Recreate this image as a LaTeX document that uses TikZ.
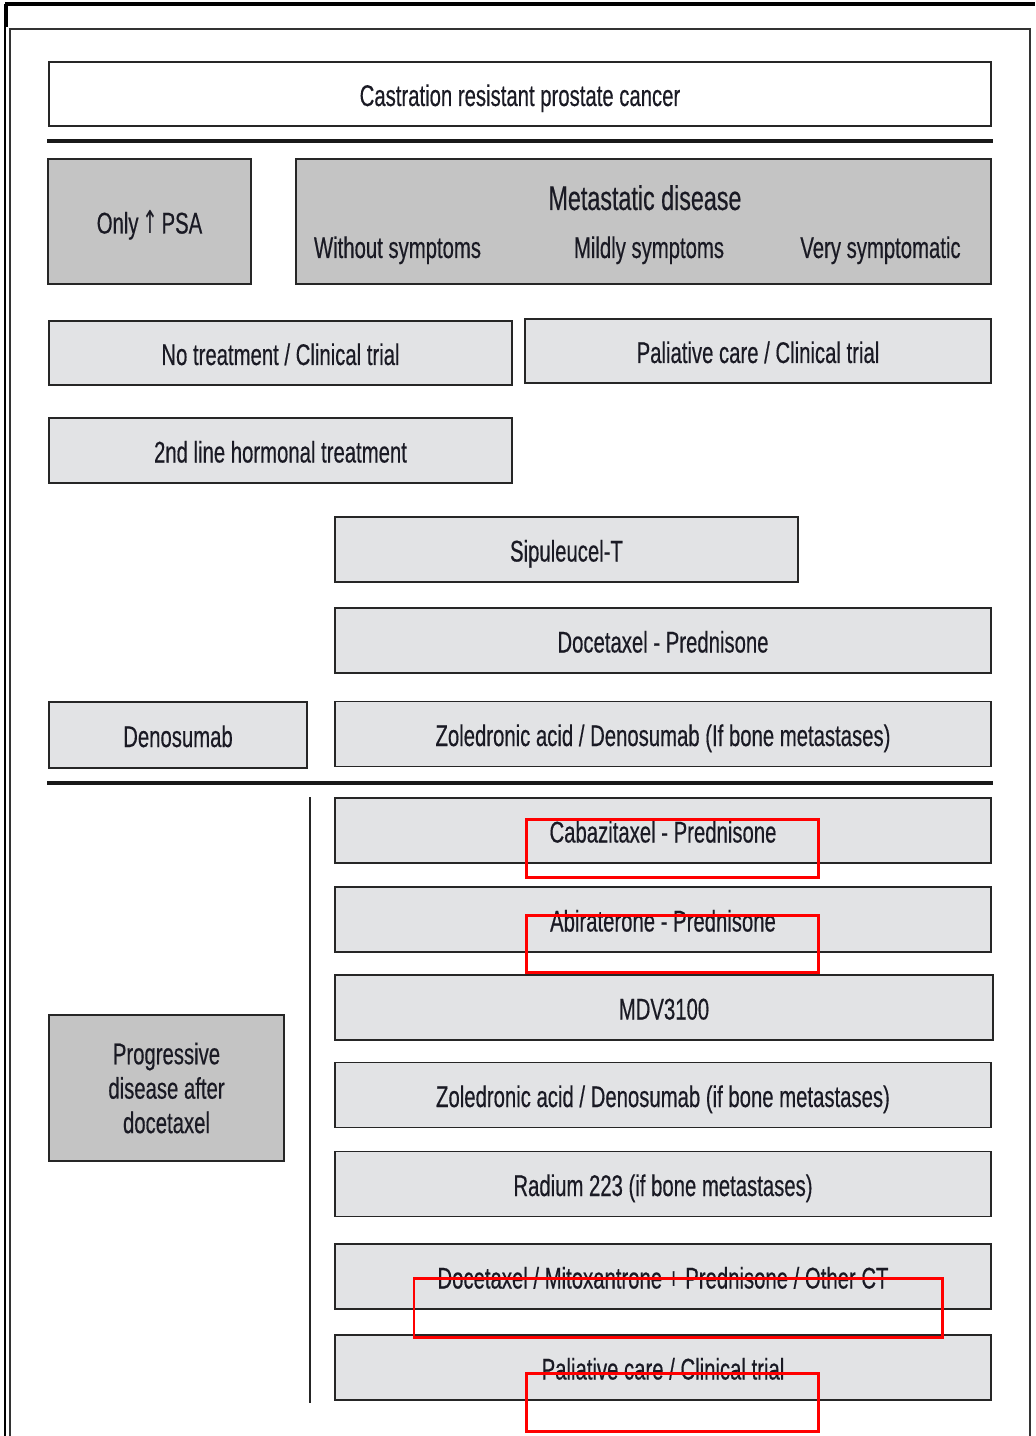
\documentclass[tikz,border=0pt]{standalone}
\usepackage{fontspec}
\setmainfont{Liberation Sans}[FakeStretch=0.68, FakeBold=0.4]
\newfontfamily\arrowfont{DejaVu Sans}[FakeStretch=0.6]
\definecolor{boxdark}{HTML}{C4C4C4}
\definecolor{boxlight}{HTML}{E2E3E5}
\definecolor{textink}{HTML}{1A1A24}
\tikzset{
  stepbox/.style = {
    draw=black!85, line width=1.1pt, inner sep=0pt, outer sep=0pt,
    text=textink, font=\fontsize{17}{19.6}\selectfont, align=center,
    text height=0.48cm, text depth=0pt
  },
  darkbox/.style  = {stepbox, fill=boxdark},
  lightbox/.style = {stepbox, fill=boxlight},
  widebox/.style  = {lightbox, minimum width=13.12cm, minimum height=1.3cm},
  label/.style    = {text=textink, font=\fontsize{17}{19.6}\selectfont,
    inner sep=0pt, text height=0.48cm, text depth=0pt},
  rule/.style     = {line width=2.8pt, black!90},
  marker/.style   = {draw=red, line width=1.7pt}
}

\begin{document}
\begin{tikzpicture}[x=0.02cm, y=-0.02cm]
  \useasboundingbox (0,0) rectangle (1035,1436);
  % page frame
  \draw[line width=1.8pt] (5,4) -- (1035,4);
  \draw[line width=1.8pt] (6,4) -- (6,27);
  \draw[line width=0.6pt] (5,27) -- (5,1436);
  \draw[line width=0.8pt, black!80] (10,1436) -- (10,29) -- (1030,29) -- (1030,1436);

  % header
  \node[stepbox, fill=white, minimum width=18.84cm, minimum height=1.28cm] (crpc) at (520,94)
    {Castration resistant prostate cancer};
  \coordinate (r1a) at (47,141);
  \coordinate (r1b) at (993,141);
  \draw[rule] (r1a) -- (r1b);

  \node[darkbox, minimum width=4.06cm, minimum height=2.5cm] (psa) at (149.5,221.5)
    {Only\hspace{0.12em}{\arrowfont\fontsize{18}{19}\selectfont ↑}\hspace{0.12em}PSA};
  \node[darkbox, minimum width=13.9cm, minimum height=2.5cm] (meta) at (643.5,221.5) {};
  \node[label, font=\fontsize{19.5}{22}\selectfont, text height=0.52cm] (metatitle) at (645,197) {Metastatic disease};
  \node[label] (nosym) at (397.5,246) {Without symptoms};
  \node[label] (mildsym) at (649,246) {Mildly symptoms};
  \node[label] (verysym) at (880.5,246) {Very symptomatic};

  % first line
  \node[lightbox, minimum width=9.26cm, minimum height=1.28cm] (notreat) at (280.5,353)
    {No treatment / Clinical trial};
  \node[lightbox, minimum width=9.32cm, minimum height=1.28cm] (palli) at (758,351)
    {Paliative care / Clinical trial};
  \node[lightbox, minimum width=9.26cm, minimum height=1.3cm] (hormon) at (280.5,450.5)
    {2nd line hormonal treatment};
  \node[lightbox, minimum width=9.26cm, minimum height=1.3cm] (sipu) at (566.5,549.5)
    {Sipuleucel-T};
  \node[widebox] (doce) at (663,640.5) {Docetaxel - Prednisone};
  \node[lightbox, minimum width=5.16cm, minimum height=1.32cm] (denos) at (178,735)
    {Denosumab};
  \node[widebox] (zole) at (663,734) {Zoledronic acid / Denosumab (If bone metastases)};

  \coordinate (r2a) at (47,783);
  \coordinate (r2b) at (993,783);
  \draw[rule] (r2a) -- (r2b);

  % after docetaxel
  \coordinate (bartop) at (310,797);
  \coordinate (barbot) at (310,1403);
  \draw[line width=1.1pt, black!85] (bartop) -- (barbot);
  \node[darkbox, minimum width=4.7cm, minimum height=2.92cm, text height=, text depth=] (prog) at (166.5,1088)
    {Progressive\\disease after\\docetaxel};
  \node[widebox] (caba) at (663,830.5) {Cabazitaxel - Prednisone};
  \node[widebox] (abira) at (663,919.5) {Abiraterone - Prednisone};
  \node[widebox, minimum width=13.16cm] (mdv) at (664,1007.5) {MDV3100};
  \node[widebox] (zoletwo) at (663,1095) {Zoledronic acid / Denosumab (if bone metastases)};
  \node[widebox] (radium) at (663,1184) {Radium 223 (if bone metastases)};
  \node[widebox] (docmit) at (663,1276.5) {Docetaxel / Mitoxantrone + Prednisone / Other CT};
  \node[widebox] (pallitwo) at (663,1367.5) {Paliative care / Clinical trial};

  % red marks
  \draw[marker] (526,819) rectangle (818,877);
  \draw[marker] (526,915) rectangle (818,972);
  \draw[marker] (414,1278) rectangle (942,1337);
  \draw[marker] (526,1373) rectangle (818,1431);
\end{tikzpicture}
\end{document}
